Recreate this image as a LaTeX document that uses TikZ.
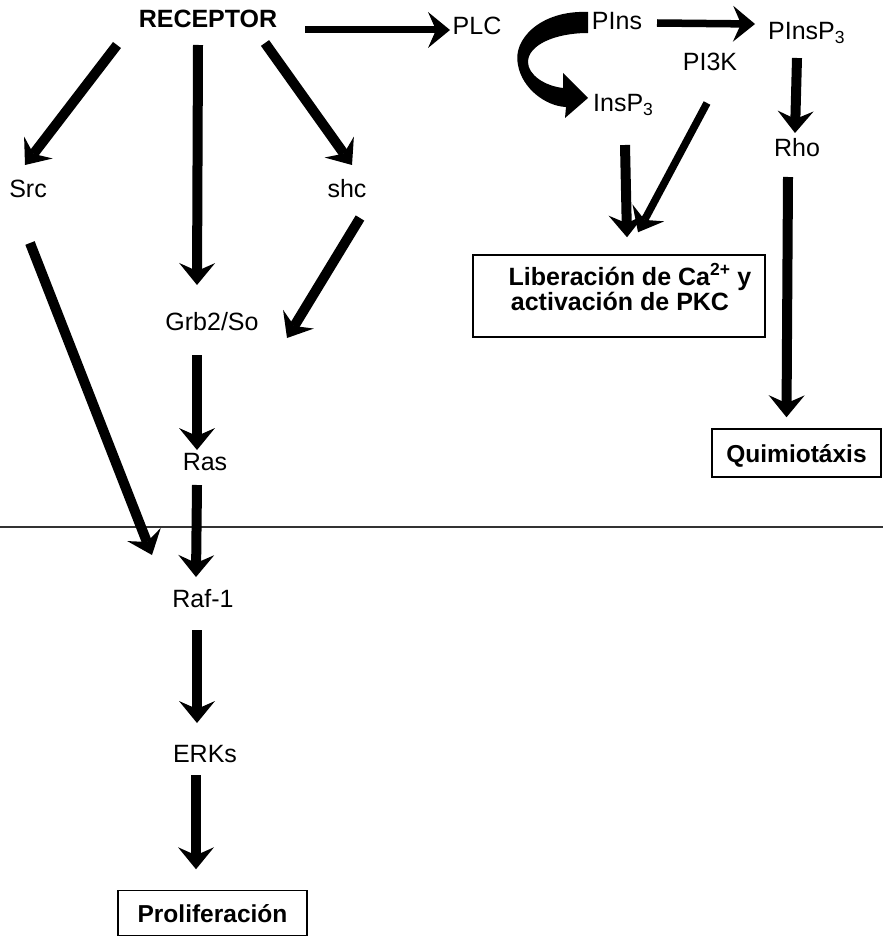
\documentclass[tikz,border=0pt]{standalone}
\usepackage{fontspec}
\setmainfont{Liberation Sans}
\usetikzlibrary{arrows.meta,calc}
\tikzset{
  lbl/.style={font=\fontsize{25}{30}\selectfont, inner sep=0pt, anchor=base},
  blbl/.style={font=\bfseries\fontsize{25}{30}\selectfont, inner sep=0pt, anchor=base},
  arr/.style={line width=10pt, -{Stealth[length=22pt,width=36pt,inset=8pt,line width=0pt]}},
  tarr/.style={arr, line width=7.5pt},
  boxn/.style={draw, line width=1.5pt, inner sep=0pt, text height=18pt, text depth=0pt, font=\bfseries\fontsize{24.5}{30}\selectfont},
  memb/.style={line width=1.3pt, draw=black!80},
}
\begin{document}
\begin{tikzpicture}[x=1pt,y=-1pt]
\useasboundingbox (0,0) rectangle (883,936);
% membrane
\coordinate (mL) at (0,527);
\coordinate (mR) at (883,527);
\draw[memb] (mL) -- (mR);
% nodes
\node[blbl] (rec) at (208,28) {RECEPTOR};
\node[lbl] (src) at (28,197) {Src};
\node[lbl] (shc) at (347,197) {shc};
\node[lbl] (grb) at (212,330) {Grb2/So};
\node[lbl] (ras) at (205,470) {Ras};
\node[lbl] (raf) at (203,607) {Raf-1};
\node[lbl] (erk) at (205,762) {ERKs};
\node[boxn, minimum width=189pt, minimum height=45pt] (pro) at (212.5,913) {Proliferación};
\node[lbl] (plc) at (477,35) {PLC};
\node[lbl] (pins) at (617,30) {PIns};
\node[lbl, anchor=base west] (pinsp) at (768,40) {PInsP\textsubscript{3}};
\node[lbl] (pik) at (710,71) {PI3K};
\node[lbl, anchor=base west] (insp) at (593,112) {InsP\textsubscript{3}};
\node[lbl] (rho) at (797,157) {Rho};
\node[draw, line width=1.5pt, minimum width=292pt, minimum height=82pt, inner sep=0pt] (lib) at (619,296) {};
\node[blbl] (lib1) at (630,285) {Liberación de Ca\textsuperscript{2+} y};
\node[blbl] (lib2) at (620,310) {activación de PKC};
\node[boxn, minimum width=169pt, minimum height=48pt] (qui) at (796.5,453) {Quimiotáxis};
% left connectors
\draw[arr] ($(rec.base)+(-91,17)$) -- ($(src.base)+(-3,-32)$);
\draw[arr] ($(rec.base)+(-10,17)$) -- ($(grb.base)+(-15,-45)$);
\draw[arr] ($(rec.base)+(57,15)$) -- ($(shc.base)+(5,-32)$);
\draw[arr] ($(shc.base)+(13,21)$) -- ($(grb.base)+(75,8)$);
\draw[arr] ($(src.base)+(2,46)$) -- ($(raf.base)+(-51,-52)$);
\draw[arr] ($(grb.base)+(-15,25)$) -- ($(ras.base)+(-8,-20)$);
\draw[arr] ($(ras.base)+(-8,15)$) -- ($(raf.base)+(-7,-30)$);
\draw[arr] ($(raf.base)+(-6,23)$) -- ($(erk.base)+(-8,-39)$);
\draw[arr] ($(erk.base)+(-9,13)$) -- ($(pro.north)+(-16.5,-20.5)$);
% right connectors
\draw[tarr, line width=7pt] ($(rec.base)+(97,2)$) -- ($(plc.base)+(-27,-5)$);
\fill[shift={(pins.base)}] (-29,-18) .. controls (-77,-20) and (-105,10) .. (-99,35)
  .. controls (-95,58) and (-72,76) .. (-51,77) -- (-52,88) -- (-29,68) -- (-54,43) -- (-54,58)
  .. controls (-72,56) and (-89,45) .. (-89,32) .. controls (-89,15) and (-62,3) .. (-29,3) -- cycle;
\draw[tarr] ($(pins.base)+(40,-7)$) -- ($(pinsp.base west)+(-13,-16)$);
\draw[tarr] ($(pik.base)+(-3,32)$) -- ($(lib.north)+(19,-22)$);
\draw[arr] ($(insp.base west)+(32,33)$) -- ($(lib.north)+(8,-17)$);
\draw[arr] ($(pinsp.base west)+(29,18)$) -- ($(rho.base)+(-2,-24)$);
\draw[arr] ($(rho.base)+(-9,20)$) -- ($(qui.north)+(-10,-11)$);
\end{tikzpicture}
\end{document}
